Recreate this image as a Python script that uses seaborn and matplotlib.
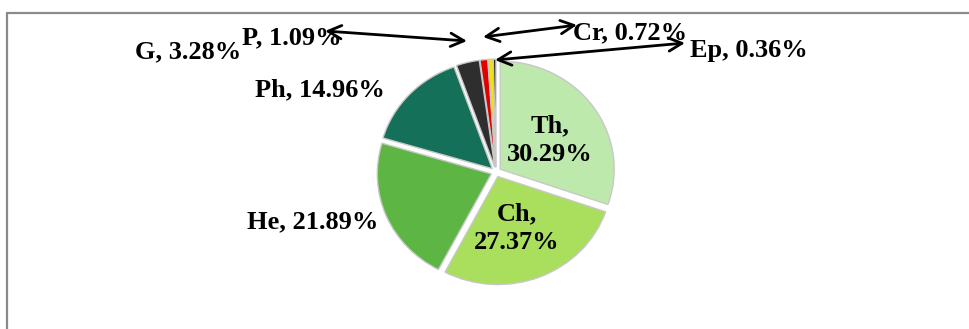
import matplotlib
matplotlib.use('Agg')
import matplotlib.pyplot as plt
import seaborn as sns
from matplotlib.lines import Line2D

sns.set_theme(style='white')
plt.rcParams['font.family'] = ['Liberation Serif', 'DejaVu Serif']

# data
names = ['Th', 'Ch', 'He', 'Ph', 'G', 'P', 'Cr', 'Ep']
shares = [30.29, 27.37, 21.89, 14.96, 3.28, 1.09, 0.72, 0.36]
colors = ['#bde9ad', '#a9df5c', '#5db643', '#15705a', '#2e2e2e', '#e00000', '#f3e300', '#111111']

W, H = 970, 329
cx, cy = 496, 172      # pie centre in pixels
rx, ry = 114, 108      # pixel radii (slight perspective)


def fig_xy(x, y):
    return x / W, 1 - y / H


fig = plt.figure(figsize=(W / 100, H / 100), dpi=100)
ax = fig.add_axes([0, 0, 1, 1])

wedges, _ = ax.pie(shares, colors=colors, startangle=90, counterclock=False,
                   explode=[0.045] * len(shares), radius=1,
                   wedgeprops=dict(edgecolor='#c8c8c8', linewidth=1.0),
                   frame=True)
ax.set_xlim(-cx / rx, (W - cx) / rx)
ax.set_ylim((cy - H) / ry, cy / ry)
ax.set_aspect('auto')
ax.axis('off')

labels = [f'{n}, {v:.2f}%' for n, v in zip(names, shares)]
labels[0] = labels[0].replace(' ', '\n')
labels[1] = labels[1].replace(' ', '\n')

# label centres (pixels)
label_pos = [(550, 140), (517, 228), (313, 222), (320, 90),
             (188, 52), (292, 38), (630, 33), (749, 50)]
for lab, (x, y) in zip(labels, label_pos):
    fig.text(*fig_xy(x, y), lab, ha='center', va='center', fontsize=19,
             fontweight='bold', color='black', linespacing=1.3)

# leader arrows for the small slices
arrows = [((325, 31), (467, 41)), ((483, 37), (577, 25)), ((495, 60), (685, 43))]
for (x0, y0), (x1, y1) in arrows:
    ax.annotate('', xy=fig_xy(x0, y0), xycoords='figure fraction',
                xytext=fig_xy(x1, y1), textcoords='figure fraction',
                arrowprops=dict(arrowstyle='<->', color='black', lw=2,
                                mutation_scale=24, shrinkA=0, shrinkB=0))

# chart-area frame (top and left edges visible)
x0, y0 = fig_xy(7.5, 12.5)
fig.lines.append(Line2D([x0, 1.0], [y0, y0], transform=fig.transFigure,
                        color='#8a8a8a', linewidth=1.6))
fig.lines.append(Line2D([x0, x0], [0, y0], transform=fig.transFigure,
                        color='#8a8a8a', linewidth=1.6))

fig.savefig('out.png', dpi=100)
